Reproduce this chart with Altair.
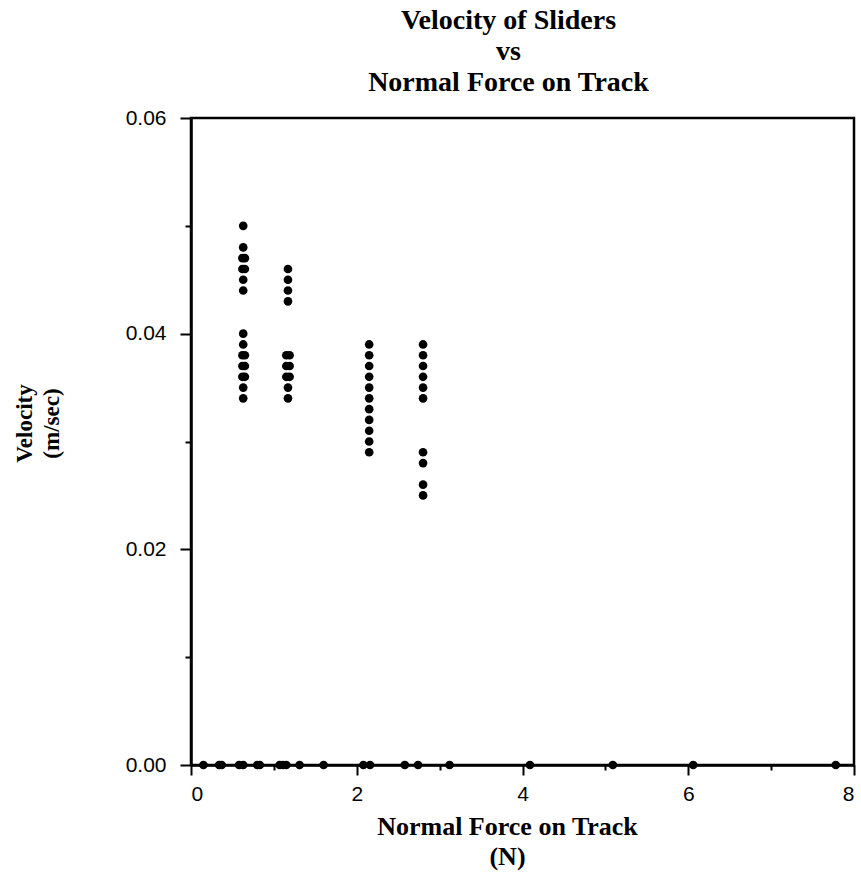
import altair as alt
import pandas as pd

# Sliders that moved: normal force on the track (N) and measured velocity (m/s)
moving_force = [
    0.63, 0.63, 0.62, 0.65, 0.62, 0.65, 0.63, 0.63,
    0.63, 0.63, 0.62, 0.65, 0.62, 0.65, 0.62, 0.65, 0.63, 0.63,
    1.17, 1.17, 1.17, 1.17,
    1.15, 1.19, 1.15, 1.19, 1.15, 1.19, 1.17, 1.17,
    2.15, 2.15, 2.15, 2.15, 2.15, 2.15, 2.15, 2.15, 2.15, 2.15, 2.15,
    2.80, 2.80, 2.80, 2.80, 2.80, 2.80, 2.80, 2.80, 2.80, 2.80,
]
moving_velocity = [
    0.050, 0.048, 0.047, 0.047, 0.046, 0.046, 0.045, 0.044,
    0.040, 0.039, 0.038, 0.038, 0.037, 0.037, 0.036, 0.036, 0.035, 0.034,
    0.046, 0.045, 0.044, 0.043,
    0.038, 0.038, 0.037, 0.037, 0.036, 0.036, 0.035, 0.034,
    0.039, 0.038, 0.037, 0.036, 0.035, 0.034, 0.033, 0.032, 0.031, 0.030, 0.029,
    0.039, 0.038, 0.037, 0.036, 0.035, 0.034, 0.029, 0.028, 0.026, 0.025,
]

# Sliders that stayed put (velocity 0)
stuck_force = [
    0.15, 0.34, 0.37, 0.58, 0.63, 0.80, 0.83, 1.07, 1.11, 1.15, 1.31, 1.60,
    2.08, 2.16, 2.58, 2.74, 3.12, 4.09, 5.09, 6.06, 7.78,
]

x_ticks = [0, 1, 2, 3, 4, 5, 6, 7, 8]
y_ticks = [0.00, 0.01, 0.02, 0.03, 0.04, 0.05, 0.06]

df = pd.DataFrame({
    "force": moving_force + stuck_force,
    "velocity": moving_velocity + [0.0] * len(stuck_force),
})

x_axis = alt.Axis(
    values=x_ticks,
    labelExpr="datum.value % 2 === 0 ? datum.label : ''",
    tickSize={"condition": {"test": "datum.value % 2 === 0", "value": 10}, "value": 5},
    labelPadding=8,
    title=["Normal Force on Track", "(N)"],
    titleX=316,
    titleY=48,
    titleBaseline="top",
    titleFontSize=26,
    titleLineHeight=30,
)

y_axis = alt.Axis(
    values=y_ticks,
    labelExpr="round(datum.value * 100) % 2 === 0 ? format(datum.value, '.2f') : ''",
    tickSize={"condition": {"test": "round(datum.value * 100) % 2 === 0", "value": 11},
              "value": 6},
    labelPadding=14,
    title=["Velocity", "(m/sec)"],
    titleX=-155,
    titleY=305,
    titleFontSize=23,
    titleLineHeight=27,
)

chart = (
    alt.Chart(df)
    .mark_circle(size=75, color="black", opacity=1)
    .encode(
        x=alt.X("force:Q", scale=alt.Scale(domain=[0, 8], nice=False), axis=x_axis),
        y=alt.Y("velocity:Q", scale=alt.Scale(domain=[0, 0.06], nice=False), axis=y_axis),
    )
    .properties(
        width=663,
        height=647,
        title=alt.TitleParams(
            ["Velocity of Sliders", "vs", "Normal Force on Track"],
            font="Liberation Serif",
            fontSize=28,
            fontWeight="bold",
            color="black",
            anchor="middle",
            frame="group",
            dx=-14,
            lineHeight=31,
            offset=10,
        ),
        autosize=alt.AutoSizeParams(type="none"),
        padding={"left": 191, "top": 118, "right": 7, "bottom": 110},
    )
    .configure_view(stroke="black", strokeWidth=2.5)
    .configure_axis(
        grid=False,
        domainColor="black",
        domainWidth=2.5,
        tickColor="black",
        tickWidth=2,
        labelFont="Liberation Sans",
        labelFontSize=21,
        labelColor="black",
        labelOverlap=False,
        titleFont="Liberation Serif",
        titleFontWeight="bold",
        titleColor="black",
    )
)

chart.save("out.html", embed_options={"renderer": "svg", "actions": False})
